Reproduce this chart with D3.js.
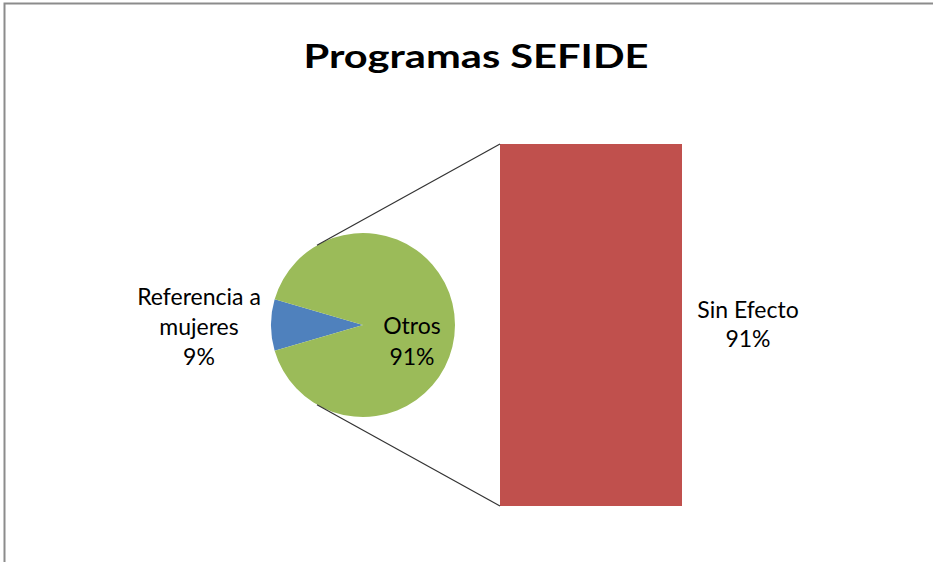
<!DOCTYPE html>
<html>
<head>
<meta charset="utf-8">
<script src="https://cdn.jsdelivr.net/npm/d3@7"></script>
<style>
  body { margin: 0; background: #fff; }
  svg text { font-family: Lato, "Open Sans", sans-serif; fill: #000; }
</style>
</head>
<body>
<div id="chart"></div>
<script>
// pie slices
const pieLabels = ['Referencia a mujeres', 'Otros'];
const pieValues = [9, 91];
const pieColors = ['#4F81BD', '#9BBB59'];
// secondary bar (split of "Otros")
const barLabels = ['Sin Efecto'];
const barValues = [91];
const barColor = '#C0504D';

const width = 933, height = 562;

const svg = d3.select('#chart').append('svg')
    .attr('width', width)
    .attr('height', height);

// chart frame (right and bottom run off the picture)
svg.append('rect')
    .attr('x', 4.5).attr('y', 3.5)
    .attr('width', 1000).attr('height', 1000)
    .attr('fill', 'none')
    .attr('stroke', '#8c8c8c')
    .attr('stroke-width', 2);

svg.append('text')
    .attr('x', 476).attr('y', 68)
    .attr('text-anchor', 'middle')
    .attr('font-size', 32)
    .attr('font-weight', 'bold')
    .attr('textLength', 345)
    .attr('lengthAdjust', 'spacingAndGlyphs')
    .text('Programas SEFIDE');

// pie
const cx = 363, cy = 325, r = 92;
const total = d3.sum(pieValues);
const half = Math.PI * pieValues[0] / total;
const start = 1.5 * Math.PI - half;

const pie = d3.pie().sort(null)
    .startAngle(start)
    .endAngle(start + 2 * Math.PI);
const arc = d3.arc().innerRadius(0).outerRadius(r);

const pieG = svg.append('g').attr('transform', `translate(${cx},${cy})`);
pieG.selectAll('path')
    .data(pie(pieValues))
    .enter()
    .append('path')
    .attr('d', arc)
    .attr('fill', (d, i) => pieColors[i]);

// bar
const barX = d3.scaleBand().domain(barLabels).range([500, 682]).padding(0);
const barY = d3.scaleLinear().domain([0, d3.max(barValues)]).range([506, 144]);

svg.selectAll('.bar')
    .data(barValues)
    .enter()
    .append('rect')
    .attr('class', 'bar')
    .attr('x', (d, i) => barX(barLabels[i]))
    .attr('y', d => barY(d))
    .attr('width', barX.bandwidth())
    .attr('height', d => barY(0) - barY(d))
    .attr('fill', barColor);

// connector lines from the pie to the bar corners
const spread = Math.PI / 3;
[[1.5 * Math.PI + spread, barY(barValues[0])], [1.5 * Math.PI - spread, barY(0)]].forEach(([a, yEnd]) => {
    svg.append('line')
        .attr('x1', cx + r * Math.sin(a))
        .attr('y1', cy - r * Math.cos(a))
        .attr('x2', barX(barLabels[0]))
        .attr('y2', yEnd)
        .attr('stroke', '#333')
        .attr('stroke-width', 1.2);
});

// labels
function label(x, y, lines, dy) {
    const t = svg.append('text')
        .attr('text-anchor', 'middle')
        .attr('font-size', 23);
    lines.forEach((l, i) => {
        t.append('tspan').attr('x', x).attr('y', y + i * dy).text(l);
    });
}
const pct = v => d3.format('.0%')(v / total);

label(199, 305, ['Referencia a', 'mujeres', pct(pieValues[0])], 30);
label(412, 334, [pieLabels[1], pct(pieValues[1])], 31);
label(748, 318, [barLabels[0], pct(barValues[0])], 29);
</script>
</body>
</html>
